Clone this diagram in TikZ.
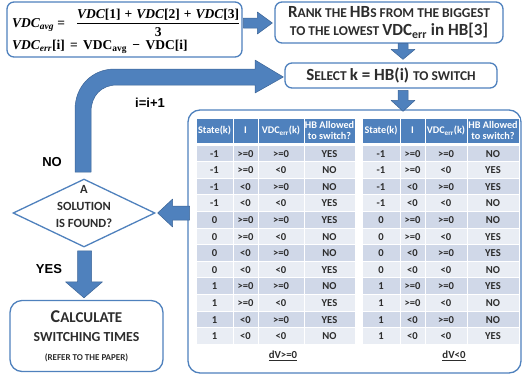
\documentclass[tikz,border=0pt]{standalone}
\usepackage{fontspec}
\setmainfont{Carlito}
\newfontfamily\arialb{Liberation Sans}
\newfontfamily\fmlfont{Liberation Serif}
\usetikzlibrary{calc,shapes.geometric}
\definecolor{boxblue}{RGB}{79,129,189}
\definecolor{arrowfill}{RGB}{79,129,189}
\definecolor{arrowedge}{RGB}{60,100,150}
\definecolor{rowA}{RGB}{208,216,232}
\definecolor{rowB}{RGB}{233,237,244}
\definecolor{txt}{RGB}{45,45,45}
\newcommand\BigC[1]{{\fontsize{17}{18}\selectfont #1}}
\newcommand\SmC[1]{{\fontsize{13.5}{18}\selectfont #1}}
\newcommand\Vit[1]{{\itshape #1}}
\newcommand\pl{\hspace{4pt}+\hspace{4pt}}
\begin{document}
\begin{tikzpicture}[x=1pt,y=-1pt,
  rbox/.style={draw=boxblue, line width=1.3pt, rounded corners=7pt, fill=white, inner sep=0pt, text=txt, align=center},
  barrow/.style={fill=arrowfill, draw=arrowedge, line width=0.5pt, line join=round},
  lbl/.style={font=\arialb\bfseries\fontsize{13}{15}\selectfont, inner sep=0pt},
  fml/.style={font=\fmlfont\bfseries\fontsize{13.5}{15}\selectfont, inner sep=0pt, text=black},
  cell/.style={draw=white, line width=1pt},
  headtxt/.style={font=\bfseries\fontsize{10.2}{11.5}\selectfont, text=white, align=center, inner sep=0pt},
  bodytxt/.style={font=\bfseries\fontsize{10.6}{12}\selectfont, text=txt, inner sep=0pt},
  ]
\useasboundingbox (0,0) rectangle (524,378);

% formula box
\node[rbox, minimum width=235pt, minimum height=55pt] (formula) at (124.5,29.5) {};
\node[fml, anchor=west] (f1) at (12,25) {\Vit{VDC}\textsubscript{\Vit{avg}} =};
\node[fml, anchor=west] (num) at (77,15) {\Vit{VDC}[1]\pl\Vit{VDC}[2]\pl\Vit{VDC}[3]};
\node[fml] (den) at (num.center |- 0,32) {3};
\draw[line width=0.6pt] ([yshift=-2.5pt]num.south west) -- ([yshift=-2.5pt]num.south east);
\node[fml, anchor=west] (f2) at (12,47) {\Vit{VDC}\textsubscript{\Vit{err}}[i]\hspace{2pt} = \hspace{2pt}VDC\textsubscript{avg}\hspace{2pt} − \hspace{2pt}VDC[i]};

% boxes
\node[rbox, minimum width=228pt, minimum height=41pt, font=\bfseries\fontsize{17}{18}\selectfont] (rank) at (389,22.5)
  {\BigC{R}\SmC{ANK THE }\BigC{HB}\SmC{S FROM THE BIGGEST}\\
   \SmC{TO THE LOWEST }\BigC{VDC\textsubscript{err} in HB[3]}};
\node[rbox, minimum width=212pt, minimum height=25pt, font=\bfseries\fontsize{17}{18}\selectfont] (select) at (391,75.5)
  {\BigC{S}\SmC{ELECT }\BigC{k = HB(i) }\SmC{TO SWITCH}};
\node[rbox, rounded corners=12pt, minimum width=333pt, minimum height=263pt] (panel) at (354.5,241.5) {};
\node[rbox, rounded corners=12pt, minimum width=153pt, minimum height=71pt, font=\bfseries\fontsize{15}{19}\selectfont] (calc) at (86.5,336)
  {{\fontsize{18}{19}\selectfont C}{\fontsize{15}{19}\selectfont ALCULATE}\\
   {\fontsize{13.8}{19}\selectfont SWITCHING TIMES}\\
   {\fontsize{9}{10}\selectfont (REFER TO THE PAPER)}};
\node[draw=boxblue, line width=1.3pt, fill=white, diamond, minimum width=142pt, minimum height=68pt, inner sep=0pt] (dia) at (84,213) {};
\node[font=\bfseries\fontsize{12.5}{17}\selectfont, text=txt, align=center, inner sep=0pt] (diatxt) at ($(dia.center)+(0,-7)$) {A\\SOLUTION\\IS FOUND?};

% tables
\foreach \tn/\ca/\cb/\cc/\cd/\ce in {L/196/233/258/304/355, R/362/400/425/467/519} {
  \draw[cell, fill=boxblue] (\ca,118) rectangle (\cb,143);
  \draw[cell, fill=boxblue] (\cb,118) rectangle (\cc,143);
  \draw[cell, fill=boxblue] (\cc,118) rectangle (\cd,143);
  \draw[cell, fill=boxblue] (\cd,118) rectangle (\ce,143);
  \node[headtxt] (\tn-h1) at ({(\ca+\cb)/2},130.5) {State(k)};
  \node[headtxt] (\tn-h2) at ({(\cb+\cc)/2},130.5) {I};
  \node[headtxt] (\tn-h3) at ({(\cc+\cd)/2},130.5) {VDC\textsubscript{err}(k)};
  \node[headtxt] (\tn-h4) at ({(\cd+\ce)/2},130.5) {HB Allowed\\to switch?};
  \foreach \r/\s/\ii/\v/\hl/\hr in {
     1/-1/>=0/>=0/YES/NO, 2/-1/>=0/<0/NO/YES, 3/-1/<0/>=0/NO/YES, 4/-1/<0/<0/YES/NO,
     5/0/>=0/>=0/YES/NO, 6/0/>=0/<0/NO/YES, 7/0/<0/>=0/NO/YES, 8/0/<0/<0/YES/NO,
     9/1/>=0/>=0/NO/YES, 10/1/>=0/<0/YES/NO, 11/1/<0/>=0/YES/NO, 12/1/<0/<0/NO/YES} {
    \pgfmathsetmacro\yt{145+(\r-1)*16.6}
    \pgfmathsetmacro\yb{\yt+16.6}
    \pgfmathsetmacro\ym{\yt+8.6}
    \ifodd\r\relax\def\rc{rowA}\else\def\rc{rowB}\fi
    \if L\tn\def\hb{\hl}\else\def\hb{\hr}\fi
    \draw[cell, fill=\rc] (\ca,\yt) rectangle (\cb,\yb);
    \draw[cell, fill=\rc] (\cb,\yt) rectangle (\cc,\yb);
    \draw[cell, fill=\rc] (\cc,\yt) rectangle (\cd,\yb);
    \draw[cell, fill=\rc] (\cd,\yt) rectangle (\ce,\yb);
    \node[bodytxt] (\tn-\r-1) at ({(\ca+\cb)/2},\ym) {\s};
    \node[bodytxt] (\tn-\r-2) at ({(\cb+\cc)/2},\ym) {\ii};
    \node[bodytxt] (\tn-\r-3) at ({(\cc+\cd)/2},\ym) {\v};
    \node[bodytxt] (\tn-\r-4) at ({(\cd+\ce)/2},\ym) {\hb};
  }
}
\node[bodytxt, font=\bfseries\fontsize{10.8}{12}\selectfont] (dvL) at (283,356) {\underline{dV>=0}};
\node[bodytxt, font=\bfseries\fontsize{10.8}{12}\selectfont] (dvR) at (454,356) {\underline{dV<0}};

% block arrows
\draw[barrow] ($(rank.west)+(-2,0.5)$) -- ++(-15,-11) -- ++(0,6) -- ++(-14,0) -- ++(0,10) -- ++(14,0) -- ++(0,6) -- cycle;
\draw[barrow] ($(select.north)+(12,-3)$) -- ++(-12,-10) -- ++(7,0) -- ++(0,-6) -- ++(10,0) -- ++(0,6) -- ++(7,0) -- cycle;
\draw[barrow] ($(panel.north)+(48.5,2)$) -- ++(-12,-11) -- ++(7,0) -- ++(0,-10) -- ++(10,0) -- ++(0,10) -- ++(7,0) -- cycle;
\draw[barrow] ($(dia.east)+(2,0)$) -- ++(15,-14) -- ++(0,7) -- ++(17,0) -- ++(0,14) -- ++(-17,0) -- ++(0,7) -- cycle;
\draw[barrow] ($(calc.north)+(-2.5,-2)$) -- ++(-18.5,-16) -- ++(12,0) -- ++(0,-31) -- ++(14,0) -- ++(0,31) -- ++(11,0) -- cycle;
% loop arrow
\draw[barrow] (91,172) -- (91,112) .. controls (91,96) and (101,85) .. (117,85) -- (255,85) -- (255,93)
  -- ($(select.west)+(-1,1.5)$) -- (255,60) -- (255,69) -- (115,69) .. controls (92,69) and (75,86) .. (75,110) -- (75,172) -- cycle;

% labels
\node[lbl] (inc) at (150,103) {i=i+1};
\node[lbl] (no) at (52,162) {NO};
\node[lbl] (yes) at (49,269) {YES};
\end{tikzpicture}
\end{document}
